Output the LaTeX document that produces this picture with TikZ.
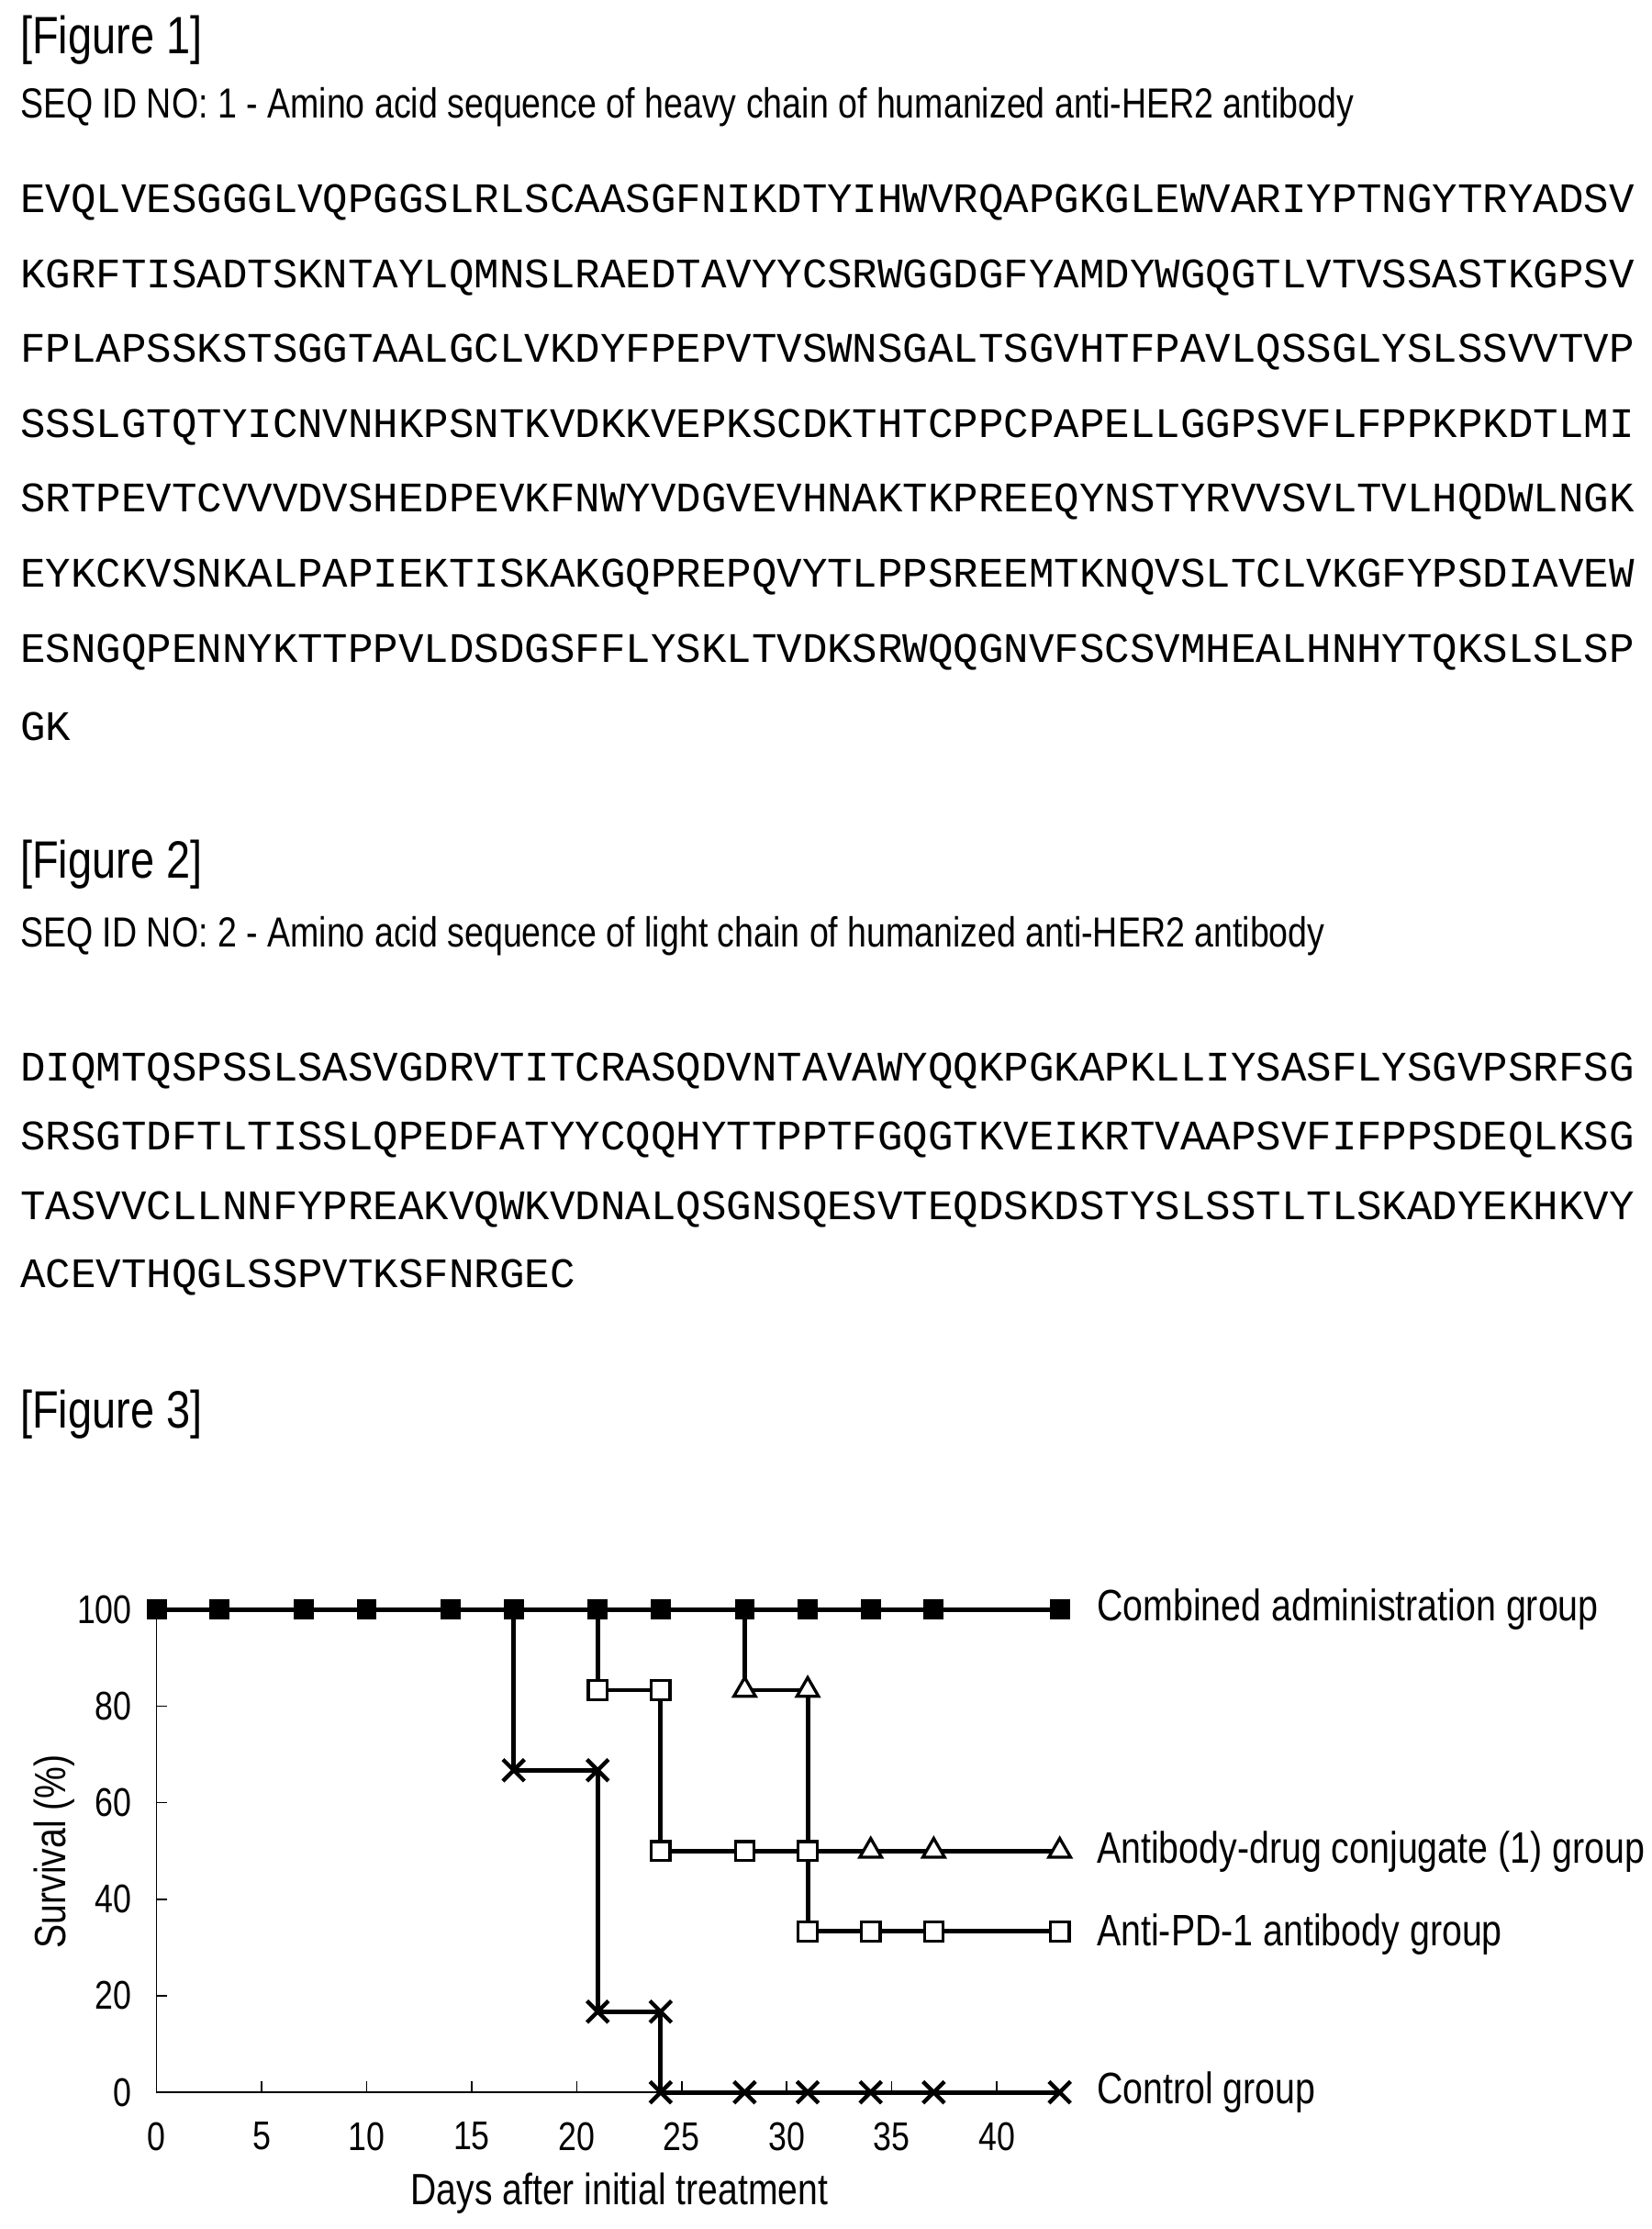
\documentclass[tikz,border=0pt]{standalone}
\usepackage{fontspec}
\setmainfont{Liberation Sans}
\newfontfamily\narrowfont[FakeStretch=0.82]{Liberation Sans}
\setmonofont{Liberation Mono}
\usetikzlibrary{shapes.geometric, shapes.misc, positioning}

\begin{document}
\begin{tikzpicture}[
  x=0.02cm, y=-0.02cm,
  figlabel/.style={anchor=west, inner sep=0pt, font=\narrowfont\fontsize{21}{24}\selectfont},
  seqtitle/.style={anchor=west, inner sep=0pt, font=\narrowfont\fontsize{16.8}{19}\selectfont},
  seqline/.style={anchor=west, inner sep=0pt, font=\ttfamily\fontsize{16.8}{18}\selectfont},
  ticklab/.style={inner sep=0pt, font=\narrowfont\fontsize{16}{18}\selectfont},
  axlab/.style={inner sep=0pt, font=\narrowfont\fontsize{17.5}{20}\selectfont},
  legendlab/.style={anchor=west, inner sep=0pt, font=\narrowfont\fontsize{17.6}{21}\selectfont},
  axis/.style={line width=0.6pt},
  curve/.style={line width=1.8pt},
  fsq/.style={draw, fill=black, rectangle, minimum size=7pt, inner sep=0pt, line width=1pt},
  osq/.style={draw, fill=white, rectangle, minimum size=7.5pt, inner sep=0pt, line width=1.2pt},
  otri/.style={draw, fill=white, regular polygon, regular polygon sides=3, minimum size=10pt, inner sep=0pt, line width=1.2pt},
  xmark/.style={draw, cross out, minimum size=7pt, inner sep=0pt, line width=1.6pt},
]
  \useasboundingbox (0,0) rectangle (1160,1565);

  % Figure 1
  \node[figlabel] (f1) at (14,28) {[Figure 1]};
  \node[seqtitle] (t1) at (14,75) {SEQ ID NO: 1 - Amino acid sequence of heavy chain of humanized anti-HER2 antibody};
  \foreach \y/\s [count=\i] in {
    142/EVQLVESGGGLVQPGGSLRLSCAASGFNIKDTYIHWVRQAPGKGLEWVARIYPTNGYTRYADSV,
    195/KGRFTISADTSKNTAYLQMNSLRAEDTAVYYCSRWGGDGFYAMDYWGQGTLVTVSSASTKGPSV,
    247/FPLAPSSKSTSGGTAALGCLVKDYFPEPVTVSWNSGALTSGVHTFPAVLQSSGLYSLSSVVTVP,
    300/SSSLGTQTYICNVNHKPSNTKVDKKVEPKSCDKTHTCPPCPAPELLGGPSVFLFPPKPKDTLMI,
    352/SRTPEVTCVVVDVSHEDPEVKFNWYVDGVEVHNAKTKPREEQYNSTYRVVSVLTVLHQDWLNGK,
    405/EYKCKVSNKALPAPIEKTISKAKGQPREPQVYTLPPSREEMTKNQVSLTCLVKGFYPSDIAVEW,
    458/ESNGQPENNYKTTPPVLDSDGSFFLYSKLTVDKSRWQQGNVFSCSVMHEALHNHYTQKSLSLSP,
    510/GK} {
    \node[seqline] (h\i) at (14,\y) {\s};
  }

  % Figure 2
  \node[figlabel] (f2) at (14,607) {[Figure 2]};
  \node[seqtitle] (t2) at (14,657) {SEQ ID NO: 2 - Amino acid sequence of light chain of humanized anti-HER2 antibody};
  \foreach \y/\s [count=\i] in {
    752/DIQMTQSPSSLSASVGDRVTITCRASQDVNTAVAWYQQKPGKAPKLLIYSASFLYSGVPSRFSG,
    800/SRSGTDFTLTISSLQPEDFATYYCQQHYTTPPTFGQGTKVEIKRTVAAPSVFIFPPSDEQLKSG,
    849/TASVVCLLNNFYPREAKVQWKVDNALQSGNSQESVTEQDSKDSTYSLSSTLTLSKADYEKHKVY,
    897/ACEVTHQGLSSPVTKSFNRGEC} {
    \node[seqline] (l\i) at (14,\y) {\s};
  }

  % Figure 3
  \node[figlabel] (f3) at (14,993) {[Figure 3]};

  \coordinate (o) at (110,1469);
  \coordinate (ytop) at (110,1130);
  \coordinate (xend) at (743,1469);
  \draw[axis] (ytop) -- (o) -- (xend);
  \foreach \v in {0,20,...,100} {
    \draw[axis] (110,{1469-3.39*\v}) -- ++(7,0);
    \node[ticklab, anchor=east] (yl\v) at (93,{1469-3.39*\v}) {\v};
  }
  \foreach \d in {0,5,...,40} {
    \draw[axis] ({110+14.75*\d},1469) -- ++(0,-8);
    \node[ticklab] (xl\d) at ({110+14.75*\d},1500) {\d};
  }
  \node[axlab, rotate=90] (ylab) at (38,1300) {Survival (\%)};
  \node[axlab] (xlab) at (435,1540) {Days after initial treatment};

  % data points
  \foreach \n/\d/\v in {cb0/0/100, cb3/3/100, cb7/7/100, cb10/10/100, cb14/14/100,
      cb17/17/100, cb21/21/100, cb24/24/100, cb28/28/100, cb31/31/100, cb34/34/100,
      cb37/37/100, cb43/43/100,
      pd21/21/83.3, pd24/24/83.3, pd24l/24/50, pd28/28/50, pd31/31/50, pd31l/31/33.3,
      pd34/34/33.3, pd37/37/33.3, pd43/43/33.3,
      ad28/28/83.3, ad31/31/83.3, ad34/34/50, ad37/37/50, ad43/43/50,
      ct17/17/66.7, ct21/21/66.7, ct21l/21/16.7, ct24/24/16.7, ct24l/24/0,
      ct28/28/0, ct31/31/0, ct34/34/0, ct37/37/0, ct43/43/0} {
    \coordinate (\n) at ({110+14.75*\d},{1469-3.39*\v});
  }

  \draw[curve] (cb0) -- (cb43);
  \draw[curve] (cb21) -- (pd21) -- (pd24) -- (pd24l) -- (pd31) -- (pd31l) -- (pd43);
  \draw[curve] (cb28) -- (ad28) -- (ad31) -- (pd31) -- (ad43);
  \draw[curve] (cb17) -- (ct17) -- (ct21) -- (ct21l) -- (ct24) -- (ct24l) -- (ct43);

  \foreach \n in {cb0,cb3,cb7,cb10,cb14,cb17,cb21,cb24,cb28,cb31,cb34,cb37,cb43}
    \node[fsq] (m\n) at (\n) {};
  \foreach \n in {pd21,pd24,pd24l,pd28,pd31,pd31l,pd34,pd37,pd43}
    \node[osq] (m\n) at (\n) {};
  \foreach \n in {ad28,ad31,ad34,ad37,ad43}
    \node[otri] (m\n) at (\n) {};
  \foreach \n in {ct17,ct21,ct21l,ct24,ct24l,ct28,ct31,ct34,ct37,ct43}
    \node[xmark] (m\n) at (\n) {};

  % legend labels
  \node[legendlab] (gcb) at (770,1130) {Combined administration group};
  \node[legendlab] (gad) at (770,1300) {Antibody-drug conjugate (1) group};
  \node[legendlab] (gpd) at (770,1358) {Anti-PD-1 antibody group};
  \node[legendlab] (gct) at (770,1469) {Control group};
\end{tikzpicture}
\end{document}
